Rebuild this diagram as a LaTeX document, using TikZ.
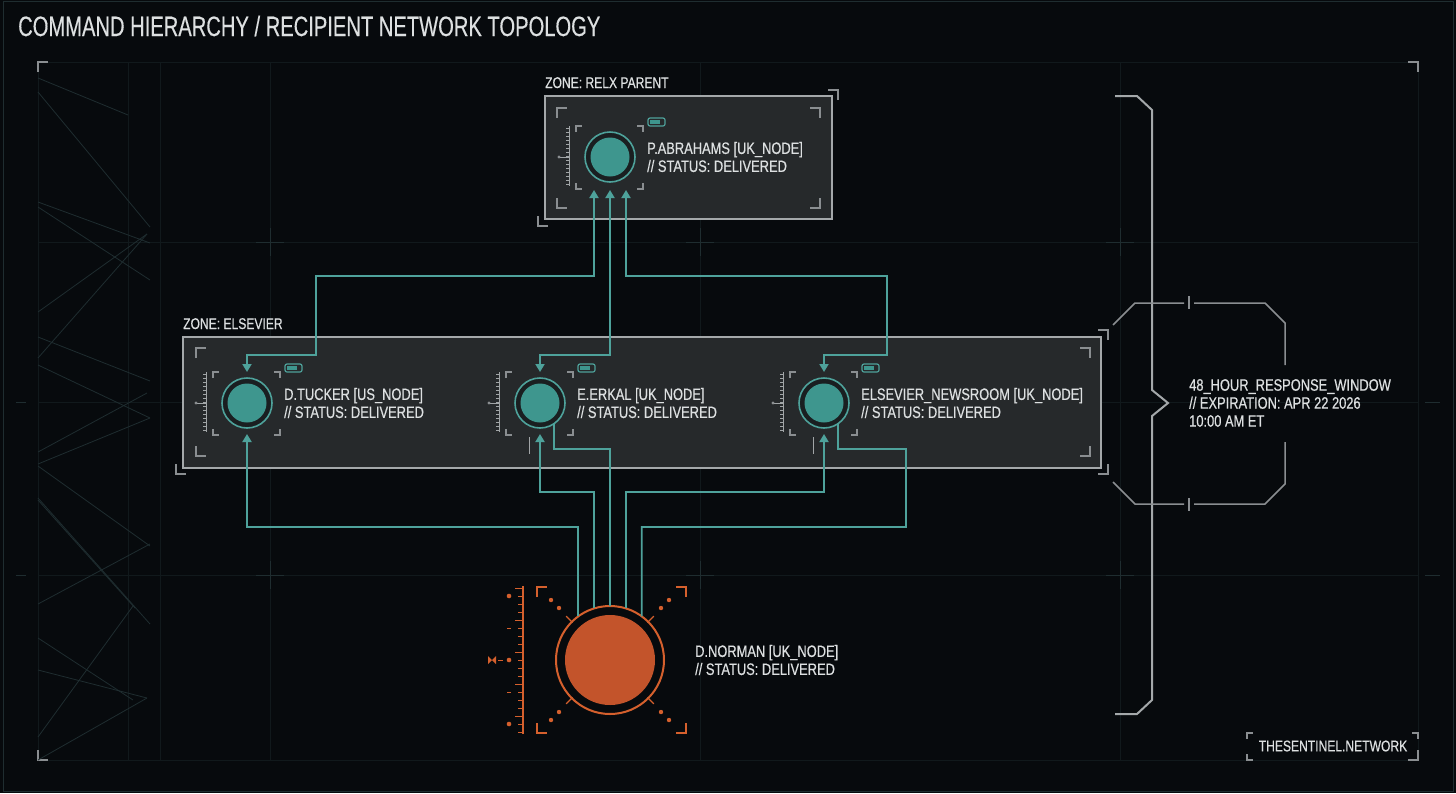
\documentclass[tikz,border=0pt]{standalone}
\usepackage{fontspec}
\setmainfont{Liberation Sans}[FakeStretch=0.78, FakeBold=0.5]
\newfontfamily\titlefont{Liberation Sans}[FakeStretch=0.72, FakeBold=0.3]
\usetikzlibrary{positioning,arrows.meta}

\definecolor{hudbg}{HTML}{070A0D}
\definecolor{gridcol}{HTML}{11191C}
\definecolor{crosscol}{HTML}{1F2D30}
\definecolor{panelfill}{HTML}{26292B}
\definecolor{panelline}{HTML}{A4A8AA}
\definecolor{dimgray}{HTML}{8A8E91}
\definecolor{hudtext}{HTML}{DDE0E1}
\definecolor{tealline}{HTML}{4EA29B}
\definecolor{tealfill}{HTML}{3E968E}
\definecolor{ringgap}{HTML}{1A1F21}
\definecolor{orangefill}{HTML}{C3542B}
\definecolor{orangeline}{HTML}{D5602D}

\tikzset{
    zone/.style={draw=panelline, fill=panelfill, line width=2pt, inner sep=0pt, outer sep=0pt},
    zonelabel/.style={text=hudtext, font=\fontsize{15.5}{17}\selectfont, inner sep=0pt, anchor=base west},
    nodetext/.style={text=hudtext, font=\fontsize{16.5}{18}\selectfont, align=left, inner sep=0pt, anchor=west},
    recip/.style={circle, draw=tealline, line width=1.6pt, fill=ringgap, minimum size=50pt,
        inner sep=0pt, outer sep=0pt,
        path picture={\fill[tealfill] (path picture bounding box.center) circle (19.5pt);}},
    sender/.style={circle, draw=orangeline, line width=2pt, fill=hudbg, minimum size=108pt,
        inner sep=0pt, outer sep=0pt,
        path picture={\fill[orangefill] (path picture bounding box.center) circle (45pt);}},
    link/.style={draw=tealline, line width=1.8pt, >={Triangle[length=8pt,width=9pt]}},
    bracket/.style={draw=dimgray, line width=1.2pt},
    hotbracket/.style={draw=orangeline, line width=1.6pt},
    ruler/.style={draw=dimgray!80, line width=0.7pt},
    battery/.style={draw=tealline, line width=1.2pt, rounded corners=2pt},
    grid line/.style={draw=gridcol, line width=0.8pt},
    zig/.style={draw=crosscol, line width=0.8pt},
}
% four corner ticks of a frame: [style]{x1}{y1}{x2}{y2}{arm}
\newcommand{\hudcorners}[6][bracket]{%
    \draw[#1] (#2,#3) ++(0,#6) -- ++(0,-#6) -- ++(#6,0);
    \draw[#1] (#4,#3) ++(-#6,0) -- ++(#6,0) -- ++(0,#6);
    \draw[#1] (#2,#5) ++(0,-#6) -- ++(0,#6) -- ++(#6,0);
    \draw[#1] (#4,#5) ++(-#6,0) -- ++(#6,0) -- ++(0,-#6);}
% teal recipient: {name}{x}{y}{text}
\newcommand{\recipient}[4]{%
    \node[recip] (#1) at (#2,#3) {};
    \hudcorners{#2-34}{#3-31}{#2+33}{#3+32}{6}
    \draw[ruler] (#2-41,#3-31) -- (#2-41,#3+29);
    \foreach \k in {0,...,14} {\draw[ruler] (#2-41,#3-29+4*\k) -- ++(-3,0);}
    \draw[ruler] (#2-52,#3) -- (#2-41,#3);
    \fill[dimgray] (#2-51,#3) circle (1.6pt);
    \draw[battery] (#2+38,#3-39) rectangle ++(17,8);
    \fill[tealfill] (#2+40,#3-37) rectangle ++(10,4);
    \node[nodetext, right=12pt of #1] (#1text) {#4};}

\begin{document}
\begin{tikzpicture}[x=1pt, y=-1pt]
    \useasboundingbox (0,0) rectangle (1456,793);
    \fill[hudbg] (0,0) rectangle (1456,793);

    % background grid and frame
    \draw[draw=crosscol, line width=1pt] (3,1.5) rectangle (1453,791);
    \draw[grid line] (38,62) rectangle (1418,760);
    \foreach \gx in {128,160} {\draw[grid line] (\gx,62) -- (\gx,760);}
    \foreach \gx in {270,700,1120} {\draw[grid line] (\gx,62) -- (\gx,760);}
    \foreach \gy in {242,402,575} {\draw[grid line] (38,\gy) -- (1418,\gy);}
    \foreach \gx in {270,700,1120} {
        \foreach \gy in {242,575} {
            \draw[zig] (\gx-14,\gy) -- (\gx+14,\gy) (\gx,\gy-14) -- (\gx,\gy+14);}}
    \foreach \gy in {402,575} {\draw[zig] (16,\gy) -- (26,\gy) (1425,\gy) -- (1440,\gy);}
    \hudcorners{38}{62}{1418}{760}{10}

    % zigzag traces on the left
    \foreach \a/\b/\c/\d in {38/78/128/115, 38/92/150/227, 38/202/150/243, 38/207/150/280,
        38/312/147/234, 38/337/150/381, 38/358/147/234, 38/365/150/418, 38/452/147/393,
        38/464/150/418, 38/466/150/546, 38/498/150/624, 38/500/135/608, 38/604/150/544,
        38/638/133/700, 38/670/147/698, 38/737/133/606, 38/760/147/698}
        {\draw[zig] (\a,\b) -- (\c,\d);}

    % title
    \node[text=hudtext, font=\titlefont\fontsize{28}{30}\selectfont, inner sep=0pt, anchor=base west]
        (title) at (18,36) {COMMAND HIERARCHY / RECIPIENT NETWORK TOPOLOGY};

    % zone: RELX parent
    \node[zone, minimum width=287pt, minimum height=123pt] (relx) at (688.5,157.5) {};
    \node[zonelabel] (relxlabel) at ([yshift=8pt]relx.north west) {ZONE: RELX PARENT};
    \hudcorners{557}{108}{820}{208}{10}
    \draw[bracket] (828,90) -- (838,90) -- (838,100);
    \draw[bracket] (538,216) -- (538,226) -- (548,226);
    \recipient{abrahams}{610}{157}{P.ABRAHAMS [UK\_NODE]\\// STATUS: DELIVERED}

    % zone: Elsevier
    \node[zone, minimum width=918pt, minimum height=131pt] (elsevier) at (642,402.5) {};
    \node[zonelabel] (elsevierlabel) at ([yshift=8pt]elsevier.north west) {ZONE: ELSEVIER};
    \hudcorners{196}{348}{1090}{456}{10}
    \draw[bracket] (176,464) -- (176,474) -- (186,474);
    \draw[bracket] (1098,330) -- (1108,330) -- (1108,340);
    \draw[bracket] (1098,474) -- (1108,474) -- (1108,464);
    \recipient{tucker}{247}{403}{D.TUCKER [US\_NODE]\\// STATUS: DELIVERED}
    \recipient{erkal}{540}{403}{E.ERKAL [UK\_NODE]\\// STATUS: DELIVERED}
    \recipient{newsroom}{824}{403}{ELSEVIER\_NEWSROOM [UK\_NODE]\\// STATUS: DELIVERED}
    \foreach \n in {erkal,newsroom} {\draw[ruler] ([xshift=-11pt,yshift=-9pt]\n.south) -- ++(0,17);}

    % sender
    \node[sender] (norman) at (610,660) {};
    \node[nodetext, right=31pt of norman] (normantext) {D.NORMAN [UK\_NODE]\\// STATUS: DELIVERED};
    \hudcorners[hotbracket]{537}{587}{686}{733}{10}
    \foreach \a in {45,135,225,315} {\draw[hotbracket, line width=1.3pt] (norman.\a) ++(\a:-1pt) -- ++(\a:9pt);}
    \foreach \p in {(551,600),(559,608),(669,600),(661,608),(551,720),(559,712),(669,720),(661,712)}
        {\fill[orangeline] \p circle (2.2pt);}
    \draw[hotbracket, line width=1.2pt] (523,586) -- (523,734);
    \foreach \k in {0,...,18} {\draw[hotbracket, line width=1pt] (523,588+8*\k) -- ++(-5,0);}
    \foreach \k in {0,4,...,16} {\draw[hotbracket, line width=1pt] (523,588+8*\k) -- ++(-8,0);}
    \foreach \gy in {596,660,724} {\fill[orangeline] (509,\gy) circle (2.3pt);}
    \foreach \gy in {628,692} {\draw[hotbracket, line width=1pt] (507,\gy) -- (511,\gy);}
    \draw[hotbracket, line width=1pt] (498,660) -- (503,660);
    \fill[orangeline] (488,656) -- (496,664) -- (496,656) -- (488,664) -- cycle;

    % links up to the parent
    \draw[link, <->] ([xshift=-16pt,yshift=-8pt]abrahams.south) |- (316,276) |- (247,355) -- ([yshift=6pt]tucker.north);
    \draw[link, <->] ([yshift=-8pt]abrahams.south) |- (540,355) -- ([yshift=6pt]erkal.north);
    \draw[link, <->] ([xshift=16pt,yshift=-8pt]abrahams.south) |- (887,276) |- (824,355) -- ([yshift=6pt]newsroom.north);

    % links from the sender
    \draw[link, ->] (norman.126) |- (247,527) -- ([yshift=-6pt]tucker.south);
    \draw[link, ->] (norman.107) |- (540,492) -- ([yshift=-6pt]erkal.south);
    \draw[link] (norman.90) |- (554,449) -- (erkal.304);
    \draw[link, ->] (norman.73) |- (824,492) -- ([yshift=-6pt]newsroom.south);
    \draw[link] (norman.54) |- (906,527) |- (838,449) -- (newsroom.304);

    % response window
    \draw[draw=panelline, line width=2pt] (1115,96) -- (1137,96) -- (1152,110) -- (1152,390)
        -- (1168,403) -- (1152,416) -- (1152,700) -- (1137,714) -- (1115,714);
    \draw[bracket, line width=1.5pt] (1113,325) -- (1135,303) -- (1184,303)
        (1194,303) -- (1265,303) -- (1285,323) -- (1285,365);
    \draw[bracket, line width=1.5pt] (1113,482) -- (1135,504) -- (1184,504)
        (1194,504) -- (1265,504) -- (1285,484) -- (1285,442);
    \draw[bracket] (1189,296) -- (1189,309) (1189,498) -- (1189,511);
    \node[nodetext] (window) at (1189,403) {48\_HOUR\_RESPONSE\_WINDOW\\// EXPIRATION: APR 22 2026\\10:00 AM ET};

    % brand tag
    \hudcorners{1247}{733}{1418}{760}{6}
    \node[text=hudtext, font=\fontsize{15.5}{17}\selectfont, inner sep=0pt] (brand) at (1333,746) {THESENTINEL.NETWORK};
\end{tikzpicture}
\end{document}
